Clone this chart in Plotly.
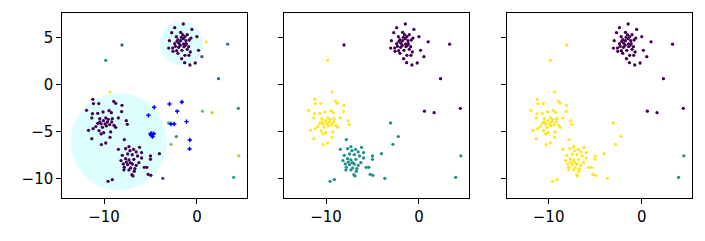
import plotly.graph_objects as go

# ---------------- data ----------------
cluster_a_x = [-1.46, -2.39, -0.54, -2.71, -1.75, -1.54, -1.04, 0.0, -2.21, -1.29, -0.64, -1.46,
               -2.96, -2.04, -1.75, -1.18, -0.82, -2.39, -1.93, -1.43, -1.14, -2.32, -3.04, -2.61,
               -1.96, -1.39, -0.89, 0.18, -2.18, -1.61, -0.71, -2.57, -2.04, -1.29, -0.86, -1.64,
               -1.32, -0.75, -0.18, -1.68, -1.25, -1.79, -1.04, -2.14]
cluster_a_y = [6.45, 6.06, 5.88, 5.53, 5.57, 5.32, 5.32, 5.11, 5.11, 5.11, 4.96, 4.89,
               4.68, 4.79, 4.68, 4.68, 4.75, 4.36, 4.40, 4.33, 4.36, 4.08, 3.90, 3.90,
               3.97, 4.04, 4.04, 3.66, 3.62, 3.66, 3.48, 3.55, 3.34, 3.13, 3.13, 2.77,
               2.35, 2.10, 2.31, 5.04, 4.19, 4.19, 3.76, 4.61]

cluster_b_x = [-11.21, -11.14, -10.57, -8.96, -8.75, -8.07, -11.89, -11.25, -10.68, -10.11, -9.46,
               -9.21, -8.11, -11.32, -10.46, -9.82, -9.11, -8.46, -7.61, -10.07, -9.64, -10.68,
               -10.32, -9.89, -9.39, -8.93, -7.50, -10.89, -10.18, -9.75, -8.75, -11.68, -11.18,
               -10.54, -10.04, -9.29, -11.32, -10.32, -9.36, -9.82, -10.29, -9.54, -9.18, -10.46]
cluster_b_y = [-1.54, -2.00, -2.00, -1.76, -1.97, -2.18, -2.71, -3.07, -3.03, -2.89, -2.75,
               -2.96, -2.85, -3.52, -3.60, -3.52, -3.60, -3.52, -3.81, -3.81, -3.95, -4.09,
               -4.16, -4.16, -4.23, -4.30, -4.20, -4.44, -4.52, -4.37, -4.52, -4.83, -4.66,
               -4.87, -5.08, -5.01, -5.72, -5.22, -5.58, -6.18, -6.35, -3.67, -3.95, -3.95]

cluster_c_x = [-8.46, -7.68, -7.32, -7.21, -6.82, -6.54, -6.18, -5.96, -8.04, -7.46, -6.96, -6.39,
               -5.00, -8.18, -7.68, -7.32, -6.79, -5.96, -5.00, -7.93, -7.46, -6.96, -6.54, -6.25,
               -7.82, -7.14, -6.68, -5.68, -5.39, -7.86, -7.32, -6.75, -7.00, -6.89, -5.25, -4.96,
               -9.57, -9.11, -7.82, -4.04, -7.18, -7.61]
cluster_c_y = [-6.85, -6.78, -6.57, -6.99, -6.85, -7.13, -6.64, -7.20, -7.49, -7.35, -7.42, -7.56,
               -7.56, -8.05, -7.84, -7.98, -7.91, -7.77, -7.91, -8.41, -8.48, -8.41, -8.55, -8.27,
               -8.76, -8.83, -8.90, -8.76, -8.76, -9.04, -9.04, -9.18, -9.54, -9.68, -9.50, -9.61,
               -10.25, -10.07, -5.82, -7.31, -8.27, -8.20]

# outlying points: position, colour in panel 1, label in panel 2, label in panel 3
noise_x = [-8.07, -9.82, -9.35, 1.00, 0.54, 3.31, 2.33, 4.46, 0.60, 1.64, 4.52, 3.96, -3.67, -3.06, -2.22, -2.80]
noise_y = [4.22, 2.60, -0.77, 4.56, 2.98, 4.31, 0.65, -2.50, -2.80, -2.96, -7.54, -9.82, -9.93, -4.06, -5.50, -6.32]
noise_p1_color = ["#31688e", "#21918c", "#fde725", "#fde725", "#3b528b", "#26828e", "#2c728e", "#21918c",
                  "#5ec962", "#b5de2b", "#a0da39", "#20a486", "#3e4a89", "#3dbc74", "#1fa187", "#6ccd5a"]
noise_p2_label = [0, 2, 2, 0, 0, 0, 0, 0, 0, 0, 1, 1, 1, 1, 1, 1]
noise_p3_label = [2, 2, 2, 0, 0, 0, 0, 0, 0, 0, 1, 1, 2, 2, 2, 2]

# extra points shown only in the first panel
extra_x = [-4.60, -2.95, -1.62, -2.12, -5.22, -1.12, -2.81, -2.45, -5.00, -4.86, -4.64, -4.93, -4.78, -0.76, -0.79]
extra_y = [-2.39, -2.04, -1.83, -2.82, -3.24, -3.91, -4.16, -4.16, -5.19, -5.19, -5.19, -5.36, -5.51, -5.86, -6.81]

# circles (center x, center y, radius) in panel 1
circle_cx = [-1.65, -8.40]
circle_cy = [4.40, -6.05]
circle_r = [2.33, 5.15]

# ---------------- styling ----------------
viridis3 = ["#440154", "#21918c", "#fde725"]
purple = "#440154"
cyan_fill = "#dcfefe"
font = dict(family="DejaVu Sans", size=15, color="black")

all_x = cluster_a_x + cluster_b_x + cluster_c_x + noise_x
all_y = cluster_a_y + cluster_b_y + cluster_c_y + noise_y
p2_labels = [0] * len(cluster_a_x) + [2] * len(cluster_b_x) + [1] * len(cluster_c_x) + noise_p2_label
p3_labels = [0] * len(cluster_a_x) + [2] * len(cluster_b_x) + [2] * len(cluster_c_x) + noise_p3_label
p1_colors = [purple] * (len(cluster_a_x) + len(cluster_b_x) + len(cluster_c_x)) + noise_p1_color

fig = go.Figure()
msize = 3.3

fig.add_trace(go.Scatter(x=all_x, y=all_y, mode="markers", xaxis="x", yaxis="y",
                         marker=dict(size=msize, color=p1_colors, line=dict(width=0)), showlegend=False))
fig.add_trace(go.Scatter(x=extra_x, y=extra_y, mode="markers", xaxis="x", yaxis="y",
                         marker=dict(size=3.6, color="#0000ff", symbol="cross", line=dict(width=0)),
                         showlegend=False))
fig.add_trace(go.Scatter(x=all_x, y=all_y, mode="markers", xaxis="x2", yaxis="y2",
                         marker=dict(size=msize, color=[viridis3[l] for l in p2_labels], line=dict(width=0)),
                         showlegend=False))
fig.add_trace(go.Scatter(x=all_x, y=all_y, mode="markers", xaxis="x3", yaxis="y3",
                         marker=dict(size=msize, color=[viridis3[l] for l in p3_labels], line=dict(width=0)),
                         showlegend=False))

shapes = []
for cx, cy, r in zip(circle_cx, circle_cy, circle_r):
    shapes.append(dict(type="circle", xref="x", yref="y", x0=cx - r, x1=cx + r, y0=cy - r, y1=cy + r,
                       fillcolor=cyan_fill, line=dict(width=0), layer="below"))

xr = [-14.5, 5.43]
yr = [-12.05, 7.65]
# page has an 8px body margin, so the figure is 697x233 placed at (8, 8)
W, H = 697, 233
ydom = [1 - 190.3 / H, 1 - 4.7 / H]
xdoms = [[54.3 / W, 239.3 / W], [276.3 / W, 461.3 / W], [498.7 / W, 684.3 / W]]

def xaxis(dom, anchor):
    return dict(domain=dom, range=xr, anchor=anchor, tickvals=[-10, 0], ticktext=["\u221210", "0"],
                showline=True, linecolor="black", linewidth=1.1, mirror=True, ticks="outside",
                ticklen=5, tickwidth=1.1, tickcolor="black", showgrid=False, zeroline=False,
                tickfont=font)

def yaxis(anchor, labels):
    return dict(domain=ydom, range=yr, anchor=anchor, tickvals=[-10, -5, 0, 5],
                ticktext=["\u221210", "\u22125", "0", "5"], showticklabels=labels,
                showline=True, linecolor="black", linewidth=1.1, mirror=True, ticks="outside",
                ticklen=5, tickwidth=1.1, tickcolor="black", showgrid=False, zeroline=False,
                tickfont=font)

fig.update_layout(
    width=W, height=H, margin=dict(l=0, r=0, t=0, b=0),
    paper_bgcolor="white", plot_bgcolor="white", font=font,
    xaxis=xaxis(xdoms[0], "y"), yaxis=yaxis("x", True),
    xaxis2=xaxis(xdoms[1], "y2"), yaxis2=yaxis("x2", False),
    xaxis3=xaxis(xdoms[2], "y3"), yaxis3=yaxis("x3", False),
    shapes=shapes,
)

fig.write_html("out.html")
